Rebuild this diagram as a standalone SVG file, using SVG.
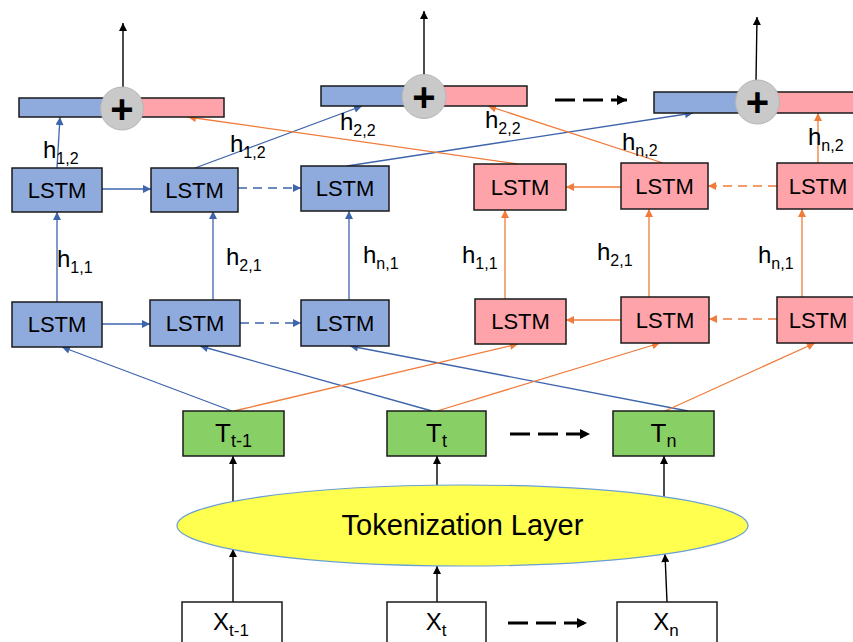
<svg xmlns="http://www.w3.org/2000/svg" width="853" height="642" viewBox="0 0 853 642">
<style>
.bl{fill:#8FAADC;stroke:#1a1a1a;stroke-width:1.5}
.pk{fill:#FFA3AA;stroke:#1a1a1a;stroke-width:1.5}
.gr{fill:#88D066;stroke:#1a1a1a;stroke-width:1.5}
.wh{fill:#ffffff;stroke:#1a1a1a;stroke-width:1.5}
.cir{fill:#C9C9C9;stroke:#B5B5B5;stroke-width:1}
.t{font-family:"Liberation Sans",Arial,sans-serif;fill:#000}
.lstm{font-size:22px;text-anchor:middle}
.lab{font-size:24px}
.sub{font-size:16px}
.plus{font-size:40px;font-weight:bold;text-anchor:middle}
.cb{stroke:#3E64AC;stroke-width:1.3;fill:none;marker-end:url(#ab)}
.co{stroke:#F07B3A;stroke-width:1.3;fill:none;marker-end:url(#ao)}
.ck{stroke:#000;stroke-width:1.4;fill:none;marker-end:url(#ak)}
.dk{stroke:#000;stroke-width:3;fill:none;stroke-dasharray:20 8;marker-end:url(#akb)}
.ds{stroke-dasharray:9 6}
</style>
<defs>
<marker id="ab" viewBox="0 0 10 10" refX="10" refY="5" markerWidth="10" markerHeight="8" orient="auto" markerUnits="userSpaceOnUse"><path d="M0,0 L10,5 L0,10 z" fill="#3E64AC"/></marker>
<marker id="ao" viewBox="0 0 10 10" refX="10" refY="5" markerWidth="10" markerHeight="8" orient="auto" markerUnits="userSpaceOnUse"><path d="M0,0 L10,5 L0,10 z" fill="#F07B3A"/></marker>
<marker id="ak" viewBox="0 0 10 10" refX="10" refY="5" markerWidth="10" markerHeight="8" orient="auto" markerUnits="userSpaceOnUse"><path d="M0,0 L10,5 L0,10 z" fill="#000"/></marker>
<marker id="akb" viewBox="0 0 10 10" refX="10" refY="5" markerWidth="12" markerHeight="10" orient="auto" markerUnits="userSpaceOnUse"><path d="M0,0 L10,5 L0,10 z" fill="#000"/></marker>
</defs>

<g id="connectors">
<!-- outputs -->
<line class="ck" x1="123" y1="87" x2="123" y2="23"/>
<line class="ck" x1="424" y1="75" x2="424" y2="11"/>
<line class="ck" x1="756" y1="81" x2="757" y2="17"/>
<!-- tokenization -->
<line class="ck" x1="233" y1="502" x2="233" y2="456"/>
<line class="ck" x1="437" y1="485" x2="437" y2="456"/>
<line class="ck" x1="664" y1="497" x2="664" y2="456"/>
<line class="ck" x1="233" y1="602" x2="233" y2="549"/>
<line class="ck" x1="437" y1="602" x2="437" y2="566"/>
<line class="ck" x1="667" y1="602" x2="665" y2="554"/>
<line class="dk" x1="510" y1="434" x2="590" y2="434"/>
<line class="dk" x1="508" y1="623" x2="587" y2="623"/>
<line class="dk" x1="555" y1="100" x2="627" y2="100"/>
<!-- blue -->
<line class="cb" x1="57" y1="302" x2="57" y2="212"/>
<line class="cb" x1="213" y1="300" x2="213" y2="211"/>
<line class="cb" x1="349" y1="300" x2="349" y2="211"/>
<line class="cb" x1="102" y1="189" x2="151" y2="189"/>
<line class="cb ds" x1="238" y1="188" x2="301" y2="188"/>
<line class="cb" x1="102" y1="324" x2="150" y2="324"/>
<line class="cb ds" x1="240" y1="323" x2="301" y2="323"/>
<line class="cb" x1="232" y1="411" x2="62" y2="347"/>
<line class="cb" x1="432" y1="411" x2="200" y2="346"/>
<line class="cb" x1="688" y1="411" x2="350" y2="346"/>
<line class="cb" x1="57" y1="168" x2="60" y2="117"/>
<line class="cb" x1="195" y1="168" x2="362" y2="106"/>
<line class="cb" x1="347" y1="166" x2="693" y2="113"/>
<!-- orange -->
<line class="co" x1="505" y1="299" x2="505" y2="210"/>
<line class="co" x1="649" y1="297" x2="649" y2="209"/>
<line class="co" x1="802" y1="297" x2="802" y2="209"/>
<line class="co" x1="621" y1="187" x2="566" y2="187"/>
<line class="co ds" x1="777" y1="186" x2="708" y2="186"/>
<line class="co" x1="621" y1="320" x2="566" y2="320"/>
<line class="co ds" x1="777" y1="319" x2="709" y2="319"/>
<line class="co" x1="234" y1="411" x2="518" y2="344"/>
<line class="co" x1="437" y1="411" x2="660" y2="343"/>
<line class="co" x1="665" y1="411" x2="815" y2="343"/>
<line class="co" x1="518" y1="164" x2="188" y2="117"/>
<line class="co" x1="663" y1="163" x2="488" y2="106"/>
<line class="co" x1="818" y1="163" x2="818" y2="113"/>
</g>

<g id="labels">
<text class="t lab" x="43" y="158">h<tspan class="sub" dy="6">1,2</tspan></text>
<text class="t lab" x="230" y="152">h<tspan class="sub" dy="6">1,2</tspan></text>
<text class="t lab" x="340" y="130">h<tspan class="sub" dy="6">2,2</tspan></text>
<text class="t lab" x="485" y="128">h<tspan class="sub" dy="6">2,2</tspan></text>
<text class="t lab" x="622" y="150">h<tspan class="sub" dy="6">n,2</tspan></text>
<text class="t lab" x="808" y="145">h<tspan class="sub" dy="6">n,2</tspan></text>
<text class="t lab" x="57" y="267">h<tspan class="sub" dy="6">1,1</tspan></text>
<text class="t lab" x="226" y="265">h<tspan class="sub" dy="6">2,1</tspan></text>
<text class="t lab" x="363" y="263">h<tspan class="sub" dy="6">n,1</tspan></text>
<text class="t lab" x="462" y="263">h<tspan class="sub" dy="6">1,1</tspan></text>
<text class="t lab" x="597" y="260">h<tspan class="sub" dy="6">2,1</tspan></text>
<text class="t lab" x="758" y="263">h<tspan class="sub" dy="6">n,1</tspan></text>
</g>

<g id="out1">
<rect class="bl" x="19" y="98" width="103" height="19"/>
<rect class="pk" x="122" y="98" width="102" height="19"/>
<circle class="cir" cx="122" cy="108.5" r="21.5"/>
<text class="t plus" x="122" y="122.5">+</text>
</g>
<g id="out2">
<rect class="bl" x="321" y="86" width="103" height="20"/>
<rect class="pk" x="424" y="86" width="103" height="20"/>
<circle class="cir" cx="424" cy="96.5" r="22"/>
<text class="t plus" x="424" y="110.5">+</text>
</g>
<g id="out3">
<rect class="bl" x="654" y="92" width="103" height="21"/>
<rect class="pk" x="757" y="92" width="110" height="21"/>
<circle class="cir" cx="757.5" cy="102" r="22"/>
<text class="t plus" x="757.5" y="116">+</text>
</g>

<g id="fw2_1"><rect class="bl" x="12" y="168" width="90" height="44"/><text class="t lstm" x="57" y="198">LSTM</text></g>
<g id="fw2_2"><rect class="bl" x="151" y="168" width="87" height="44"/><text class="t lstm" x="194.5" y="198">LSTM</text></g>
<g id="fw2_3"><rect class="bl" x="301" y="166" width="88" height="45"/><text class="t lstm" x="345" y="196">LSTM</text></g>
<g id="bw2_1"><rect class="pk" x="474" y="164" width="92" height="46"/><text class="t lstm" x="520" y="195">LSTM</text></g>
<g id="bw2_2"><rect class="pk" x="621" y="163" width="87" height="46"/><text class="t lstm" x="664.5" y="194">LSTM</text></g>
<g id="bw2_3"><rect class="pk" x="777" y="163" width="90" height="46"/><text class="t lstm" x="818" y="194">LSTM</text></g>

<g id="fw1_1"><rect class="bl" x="12" y="302" width="90" height="45"/><text class="t lstm" x="57" y="332">LSTM</text></g>
<g id="fw1_2"><rect class="bl" x="150" y="300" width="90" height="46"/><text class="t lstm" x="195" y="331">LSTM</text></g>
<g id="fw1_3"><rect class="bl" x="301" y="300" width="88" height="46"/><text class="t lstm" x="345" y="331">LSTM</text></g>
<g id="bw1_1"><rect class="pk" x="475" y="299" width="91" height="45"/><text class="t lstm" x="520.5" y="329">LSTM</text></g>
<g id="bw1_2"><rect class="pk" x="621" y="297" width="88" height="46"/><text class="t lstm" x="665" y="328">LSTM</text></g>
<g id="bw1_3"><rect class="pk" x="777" y="297" width="90" height="46"/><text class="t lstm" x="818" y="328">LSTM</text></g>

<g id="T1"><rect class="gr" x="183" y="411" width="101" height="45"/><text class="t" x="233.5" y="442" text-anchor="middle" font-size="26">T<tspan font-size="18" dy="5">t-1</tspan></text></g>
<g id="T2"><rect class="gr" x="387" y="411" width="99" height="45"/><text class="t" x="436.5" y="442" text-anchor="middle" font-size="26">T<tspan font-size="18" dy="5">t</tspan></text></g>
<g id="T3"><rect class="gr" x="613" y="411" width="101" height="45"/><text class="t" x="663.5" y="442" text-anchor="middle" font-size="26">T<tspan font-size="18" dy="5">n</tspan></text></g>

<g id="tokenization">
<ellipse cx="462.5" cy="525.5" rx="285.5" ry="40.5" fill="#FFFF50" stroke="#6A9FD4" stroke-width="1.2"/>
<text class="t" x="462.5" y="535" text-anchor="middle" font-size="29">Tokenization Layer</text>
</g>

<g id="X1"><rect class="wh" x="182" y="602" width="100" height="50"/><text class="t" x="231" y="630" text-anchor="middle" font-size="24">X<tspan font-size="17" dy="6">t-1</tspan></text></g>
<g id="X2"><rect class="wh" x="387" y="602" width="99" height="50"/><text class="t" x="436" y="630" text-anchor="middle" font-size="24">X<tspan font-size="17" dy="6">t</tspan></text></g>
<g id="X3"><rect class="wh" x="617" y="602" width="100" height="50"/><text class="t" x="666" y="630" text-anchor="middle" font-size="24">X<tspan font-size="17" dy="6">n</tspan></text></g>
</svg>
